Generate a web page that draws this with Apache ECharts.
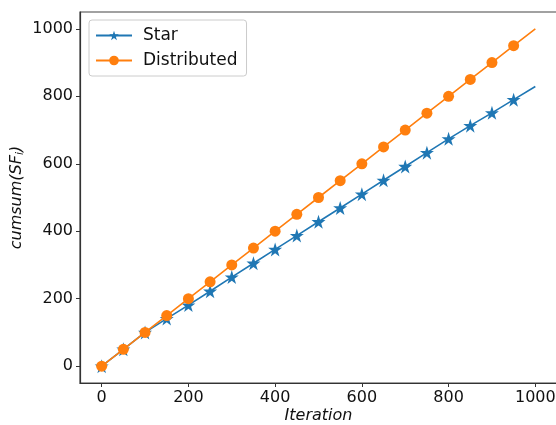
<!DOCTYPE html>
<html>
<head>
<meta charset="utf-8">
<script src="https://cdn.jsdelivr.net/npm/echarts@6/dist/echarts.min.js"></script>
<style>
  html, body { margin: 0; padding: 0; background: #fff; }
  #main { width: 556px; height: 425px; }
</style>
</head>
<body>
<div id="main"></div>
<script>
// iterations sampled every 50
var iterations = [0, 50, 100, 150, 200, 250, 300, 350, 400, 450, 500, 550, 600, 650, 700, 750, 800, 850, 900, 950, 1000]
var starValues = [0, 50, 100, 141, 181, 222, 264, 305, 346, 387, 428, 469, 510, 551, 592, 633, 674, 713, 751, 790, 829]
var distValues = [0, 50, 100, 150, 200, 250, 300, 350, 400, 450, 500, 550, 600, 650, 700, 750, 800, 850, 900, 950, 1000]
var xTicks = [0, 200, 400, 600, 800, 1000]
var yTicks = [0, 200, 400, 600, 800, 1000]

// last point is only the end of the line, no marker
function toPoints(ys) {
  return iterations.map(function (x, i) {
    if (i === iterations.length - 1) {
      return { value: [x, ys[i]], symbol: 'none' }
    }
    return [x, ys[i]]
  })
}

var chart = echarts.init(document.getElementById('main'))
var font = 'DejaVu Sans'

var axisCommon = {
  type: 'value',
  min: -50,
  max: 1050,
  interval: 50,
  nameLocation: 'middle',
  nameMoveOverlap: false,
  axisLine: { show: true, onZero: false, lineStyle: { color: '#333', width: 1.2 } },
  axisTick: {
    show: true, length: 4, inside: false,
    lineStyle: { color: '#333', width: 1 },
    customValues: null
  },
  splitLine: { show: false }
}

var option = {
  animation: false,
  backgroundColor: '#fff',
  grid: {
    left: 80, right: -1, top: 12, bottom: 42,
    show: true, borderColor: '#444', borderWidth: 1.2,
    outerBoundsMode: 'none',
    containLabel: false
  },
  legend: {
    orient: 'vertical',
    left: 89,
    top: 20,
    padding: [7, 9, 7, 6],
    itemGap: 8,
    itemWidth: 36,
    itemHeight: 12,
    backgroundColor: '#fff',
    borderColor: '#ccc',
    borderWidth: 1,
    borderRadius: 3,
    textStyle: { fontFamily: font, fontSize: 17, color: '#111', padding: [0, 0, 0, 6] },
    data: ['Star', 'Distributed']
  },
  xAxis: Object.assign({}, axisCommon, {
    name: 'Iteration',
    nameGap: 25,
    nameTextStyle: { fontFamily: font, fontSize: 16, fontStyle: 'italic', color: '#111' },
    axisTick: Object.assign({}, axisCommon.axisTick, { customValues: xTicks }),
    axisLabel: {
      fontFamily: font, fontSize: 16, color: '#111', margin: 7,
      customValues: xTicks,
      formatter: function (v) { return String(v) }
    }
  }),
  yAxis: Object.assign({}, axisCommon, {
    name: '{a|cumsum(SF}{b|i}{a|)}',
    nameGap: 52,
    nameTextStyle: {
      rich: {
        a: { fontFamily: font, fontSize: 16, fontStyle: 'italic', color: '#111', lineHeight: 22 },
        b: { fontFamily: font, fontSize: 11, fontStyle: 'italic', color: '#111', lineHeight: 22, padding: [6, 0, 0, 0] }
      }
    },
    axisTick: Object.assign({}, axisCommon.axisTick, { customValues: yTicks }),
    axisLabel: {
      fontFamily: font, fontSize: 16, color: '#111', margin: 7,
      customValues: yTicks,
      formatter: function (v) { return String(v) }
    }
  }),
  series: [
    {
      name: 'Star',
      type: 'line',
      data: toPoints(starValues),
      symbol: 'path://M50,0 L61.8,36.2 L100,36.2 L69.1,58.8 L80.9,95.1 L50,72.7 L19.1,95.1 L30.9,58.8 L0,36.2 L38.2,36.2 Z',
      symbolSize: 14,
      showAllSymbol: true,
      lineStyle: { color: '#1f77b4', width: 1.6 },
      itemStyle: { color: '#1f77b4' },
      z: 2
    },
    {
      name: 'Distributed',
      type: 'line',
      data: toPoints(distValues),
      symbol: 'circle',
      symbolSize: 11,
      showAllSymbol: true,
      lineStyle: { color: '#ff7f0e', width: 1.6 },
      itemStyle: { color: '#ff7f0e' },
      z: 3
    }
  ]
}

chart.setOption(option)
</script>
</body>
</html>
